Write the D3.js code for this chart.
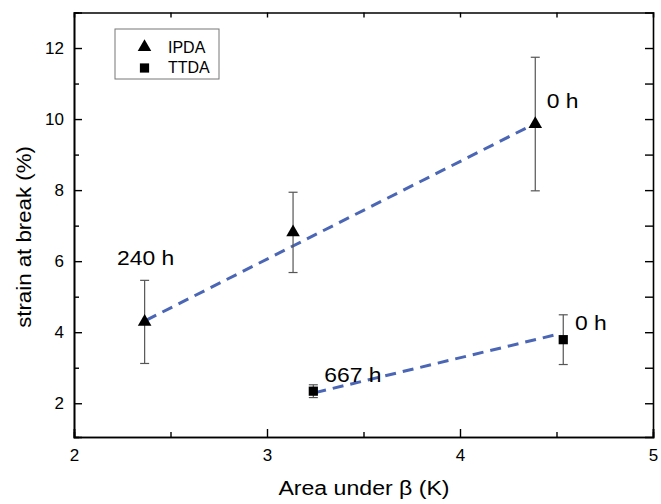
<!DOCTYPE html>
<html>
<head>
<meta charset="utf-8">
<script src="https://cdn.jsdelivr.net/npm/d3@7"></script>
<style>
  body { margin: 0; background: #fff; }
  text { font-family: Arial, "Liberation Sans", sans-serif; }
</style>
</head>
<body>
<svg width="661" height="504"></svg>
<script>
// IPDA series (triangles)
const ipdaX = [2.366, 3.135, 4.39];
const ipdaY = [4.29, 6.81, 9.86];
const ipdaErr = [1.17, 1.13, 1.88];
// TTDA series (squares)
const ttdaX = [3.24, 4.535];
const ttdaY = [2.34, 3.79];
const ttdaErr = [0.18, 0.70];
// dashed fit lines, end points
const ipdaFitX = [2.375, 4.38];
const ipdaFitY = [4.34, 9.85];
const ttdaFitX = [3.25, 4.52];
const ttdaFitY = [2.30, 3.96];
// aging time labels
const labelText = ['240 h', '0 h', '667 h', '0 h'];
const labelX = [2.223, 4.449, 3.297, 4.596];
const labelY = [5.90, 10.30, 2.61, 4.07];

const xMajor = [2, 3, 4, 5];
const xMinor = [2.5, 3.5, 4.5];
const yMajor = [2, 4, 6, 8, 10, 12];
const yMinor = [3, 5, 7, 9, 11];

const svg = d3.select('svg');
const x = d3.scaleLinear().domain([2, 5]).range([74, 653]);
const y = d3.scaleLinear().domain([1.05, 13]).range([437, 12.5]);

// frame + axes
const gB = svg.append('g').attr('transform', `translate(0,${y.range()[0]})`);
gB.call(d3.axisBottom(x).tickValues(xMajor).tickSize(-8).tickPadding(12).tickFormat(d3.format('d')));
gB.append('g').call(d3.axisBottom(x).tickValues(xMinor).tickSize(-5).tickFormat(''));

const gL = svg.append('g').attr('transform', `translate(${x.range()[0]},0)`);
gL.call(d3.axisLeft(y).tickValues(yMajor).tickSize(-8).tickPadding(10).tickFormat(d3.format('d')));
gL.append('g').call(d3.axisLeft(y).tickValues(yMinor).tickSize(-5).tickFormat(''));

svg.append('g').attr('transform', `translate(0,${y.range()[1]})`)
  .call(d3.axisTop(x).tickValues(xMinor.concat([3, 4])).tickSize(-5).tickFormat(''));
svg.append('g').attr('transform', `translate(${x.range()[1]},0)`)
  .call(d3.axisRight(y).tickValues(yMajor.concat(yMinor)).tickSize(-8).tickFormat(''));

svg.selectAll('.domain').attr('stroke', '#000').attr('stroke-width', 1.6);
svg.selectAll('.tick line').attr('stroke', '#000').attr('stroke-width', 1.4);
svg.selectAll('.tick text').attr('font-size', 17).attr('fill', '#000')
  .attr('font-family', 'Arial, "Liberation Sans", sans-serif');

// axis titles (slightly wide lettering, as in the original)
svg.append('text').attr('transform', 'translate(364,495) scale(1.1,1)').attr('text-anchor', 'middle')
  .attr('font-size', 21).text('Area under β (K)');
svg.append('text').attr('transform', 'translate(31,237) rotate(-90) scale(1.06,1)').attr('text-anchor', 'middle')
  .attr('font-size', 21).text('strain at break (%)');

// fit lines
const line = d3.line().x(d => x(d[0])).y(d => y(d[1]));
[[ipdaFitX, ipdaFitY], [ttdaFitX, ttdaFitY]].forEach(([fx, fy]) => {
  svg.append('path').datum(d3.zip(fx, fy)).attr('d', line)
    .attr('fill', 'none').attr('stroke', '#4a66b5').attr('stroke-width', 3)
    .attr('stroke-dasharray', '11,7');
});

// error bars
function errBars(xs, ys, es) {
  const g = svg.append('g').attr('stroke', '#555').attr('stroke-width', 1.2);
  xs.forEach((xv, i) => {
    const cx = x(xv), y0 = y(ys[i] - es[i]), y1 = y(ys[i] + es[i]);
    g.append('line').attr('x1', cx).attr('x2', cx).attr('y1', y0).attr('y2', y1);
    g.append('line').attr('x1', cx - 4.5).attr('x2', cx + 4.5).attr('y1', y0).attr('y2', y0);
    g.append('line').attr('x1', cx - 4.5).attr('x2', cx + 4.5).attr('y1', y1).attr('y2', y1);
  });
}
errBars(ipdaX, ipdaY, ipdaErr);
errBars(ttdaX, ttdaY, ttdaErr);

// markers
const tri = d3.symbol().type(d3.symbolTriangle).size(80);
const sq = d3.symbol().type(d3.symbolSquare).size(85);
svg.selectAll('.tri').data(d3.zip(ipdaX, ipdaY)).join('path').attr('class', 'tri')
  .attr('d', tri).attr('transform', d => `translate(${x(d[0])},${y(d[1])})`).attr('fill', '#000');
svg.selectAll('.sq').data(d3.zip(ttdaX, ttdaY)).join('path').attr('class', 'sq')
  .attr('d', sq).attr('transform', d => `translate(${x(d[0])},${y(d[1])})`).attr('fill', '#000');

// labels
svg.selectAll('.lab').data(labelText).join('text').attr('class', 'lab')
  .attr('transform', (d, i) => `translate(${x(labelX[i])},${y(labelY[i])}) scale(1.09,1)`)
  .attr('font-size', 21).text(d => d);

// legend
const lg = svg.append('g');
lg.append('rect').attr('x', 115).attr('y', 29).attr('width', 104).attr('height', 50)
  .attr('fill', '#fff').attr('stroke', '#777').attr('stroke-width', 1);
lg.append('path').attr('d', tri).attr('transform', 'translate(144.5,47)');
lg.append('path').attr('d', sq).attr('transform', 'translate(144.5,68)');
lg.append('text').attr('x', 168).attr('y', 53.3).attr('font-size', 16).text('IPDA');
lg.append('text').attr('x', 168).attr('y', 73.3).attr('font-size', 16).text('TTDA');
</script>
</body>
</html>
